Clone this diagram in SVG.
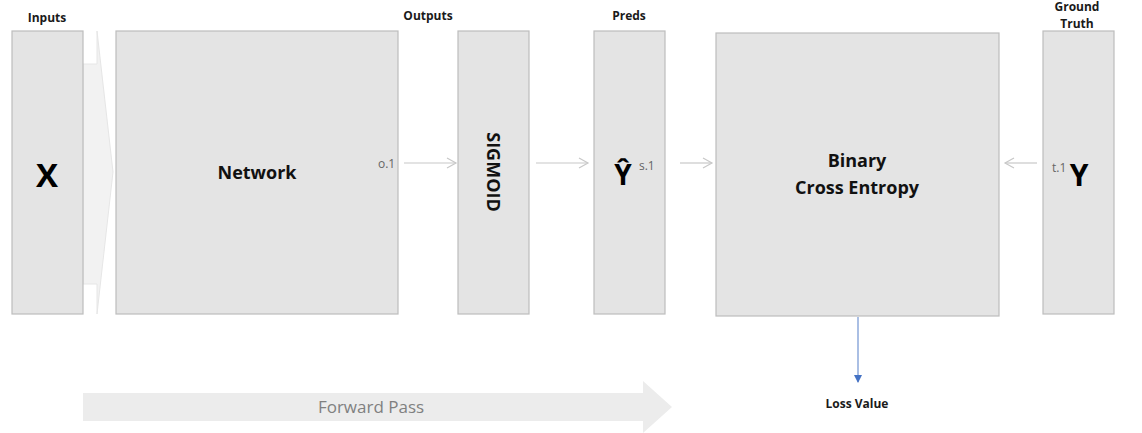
<svg xmlns="http://www.w3.org/2000/svg" width="1142" height="433" viewBox="0 0 1142 433">
<defs>
<style>
.box{fill:#e4e4e4;stroke:#bdbdbd;stroke-width:1.2}
.hdr{font-family:"Open Sans","Liberation Sans",sans-serif;font-weight:bold;font-size:12px;fill:#1a1a1a;text-anchor:middle}
.lbl{font-family:"Open Sans","Liberation Sans",sans-serif;font-weight:bold;font-size:18px;fill:#111;text-anchor:middle}
.big{font-family:"Open Sans","Liberation Sans",sans-serif;font-weight:bold;fill:#000;text-anchor:middle}
.sub{font-family:"Open Sans","Liberation Sans",sans-serif;font-size:12px;fill:#666}
.conn{stroke:#c8c8c8;stroke-width:1.2;fill:none}
</style>
<marker id="open" markerWidth="12" markerHeight="12" refX="10" refY="6" orient="auto" markerUnits="userSpaceOnUse">
<path d="M1,1 L10,6 L1,11" fill="none" stroke="#c8c8c8" stroke-width="1.2"/>
</marker>
</defs>
<rect width="1142" height="433" fill="#fff"/>

<g id="forward-pass">
<path d="M83,393 L643,393 L643,381 L672,407 L643,433 L643,421 L83,421 Z" fill="#ececec"/>
<text x="371" y="413" font-family="'Open Sans','Liberation Sans',sans-serif" font-size="17" fill="#808080" text-anchor="middle">Forward Pass</text>
</g>

<g id="input-arrow">
<path d="M83,64 L97,64 L97,31 L113,172 L97,314 L97,284 L83,284 Z" fill="#f2f2f2" stroke="#e6e6e6" stroke-width="1"/>
</g>

<g id="inputs">
<text class="hdr" x="47" y="22" font-size="13">Inputs</text>
<rect class="box" x="12" y="31" width="71" height="283"/>
<text class="big" x="47" y="187" font-size="33">X</text>
</g>

<g id="network">
<rect class="box" x="116" y="31" width="282" height="283"/>
<text class="lbl" x="257" y="179">Network</text>
<text class="sub" x="378" y="168">o.1</text>
</g>

<g id="sigmoid">
<text class="hdr" x="428" y="20">Outputs</text>
<rect class="box" x="458" y="31" width="71" height="283"/>
<text class="lbl" x="0" y="0" transform="translate(487 172) rotate(90)">SIGMOID</text>
</g>

<g id="preds">
<text class="hdr" x="629" y="20">Preds</text>
<rect class="box" x="594" y="31" width="71" height="283"/>
<text class="big" x="623" y="185" font-size="28">Ŷ</text>
<text class="sub" x="639" y="170">s.1</text>
</g>

<g id="bce">
<rect class="box" x="716" y="33" width="283" height="283"/>
<text class="lbl" x="857" y="167">Binary</text>
<text class="lbl" x="857" y="194">Cross Entropy</text>
</g>

<g id="ground-truth">
<text class="hdr" x="1077" y="11">Ground</text>
<text class="hdr" x="1077" y="28">Truth</text>
<rect class="box" x="1043" y="31" width="71" height="283"/>
<text class="sub" x="1052" y="172">t.1</text>
<text class="big" x="1079" y="186" font-size="30">Y</text>
</g>

<g id="loss">
<text class="hdr" x="857" y="408">Loss Value</text>
</g>

<g id="connectors">
<line class="conn" x1="404" y1="163" x2="456" y2="163" marker-end="url(#open)"/>
<line class="conn" x1="536" y1="163" x2="588" y2="163" marker-end="url(#open)"/>
<line class="conn" x1="680" y1="163" x2="712" y2="163" marker-end="url(#open)"/>
<line class="conn" x1="1037" y1="163" x2="1005" y2="163" marker-end="url(#open)"/>
<line x1="858" y1="317" x2="858" y2="382" stroke="#8eaadb" stroke-width="1.5"/>
<path d="M854,375 L862,375 L858,383 Z" fill="#4472c4"/>
</g>
</svg>
